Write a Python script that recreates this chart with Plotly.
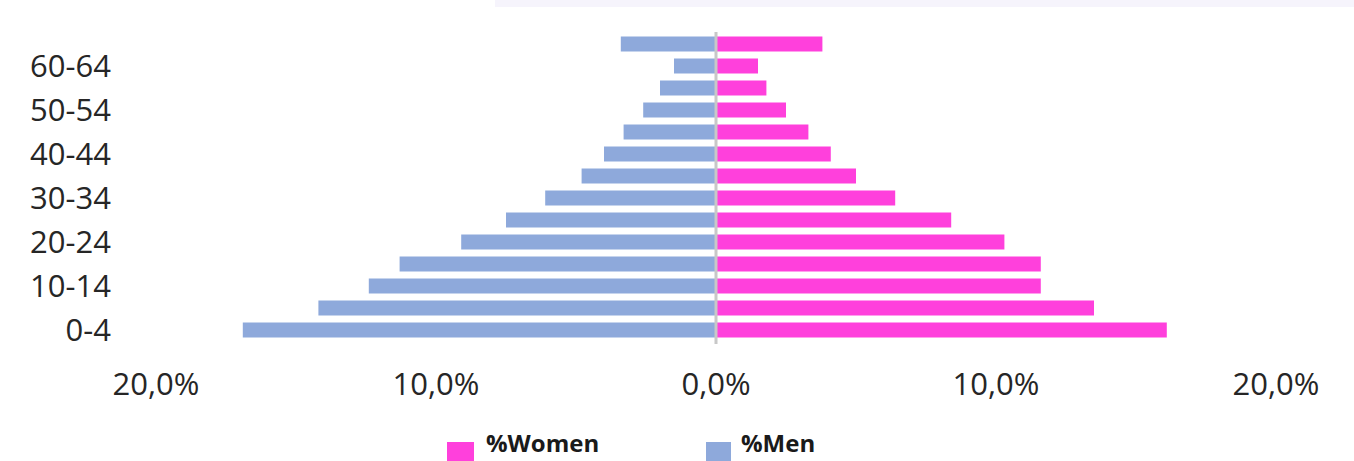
import plotly.graph_objects as go

age_groups = ["0-4", "5-9", "10-14", "15-19", "20-24", "25-29", "30-34",
              "35-39", "40-44", "45-49", "50-54", "55-59", "60-64", "65+"]
men_pct = [16.9, 14.2, 12.4, 11.3, 9.1, 7.5, 6.1, 4.8, 4.0, 3.3, 2.6, 2.0, 1.5, 3.4]
women_pct = [16.1, 13.5, 11.6, 11.6, 10.3, 8.4, 6.4, 5.0, 4.1, 3.3, 2.5, 1.8, 1.5, 3.8]
y_tick_labels = age_groups[::2]
x_tick_vals = [-20, -10, 0, 10, 20]
x_tick_text = ["20,0%", "10,0%", "0,0%", "10,0%", "20,0%"]

W, H = 1354, 461
L, R, T, B = 156, 78, 33, 120
PW, PH = W - L - R, H - T - B

def px(x):
    return (x - L) / PW

def py(y):
    return (H - B - y) / PH

MEN_COLOR = "#8EA9DB"
WOMEN_COLOR = "#FF40DC"

fig = go.Figure()
fig.add_trace(go.Bar(y=age_groups, x=[-v for v in men_pct], orientation="h",
                     name="%Men", marker=dict(color=MEN_COLOR, line=dict(width=0)),
                     showlegend=False))
fig.add_trace(go.Bar(y=age_groups, x=women_pct, orientation="h",
                     name="%Women", marker=dict(color=WOMEN_COLOR, line=dict(width=0)),
                     showlegend=False))

fig.update_layout(
    width=W, height=H,
    margin=dict(l=L, r=R, t=T, b=B),
    barmode="overlay", bargap=0.32,
    plot_bgcolor="white", paper_bgcolor="white",
    font=dict(family="Open Sans", color="#262626"),
)
fig.update_xaxes(range=[-20, 20], tickvals=x_tick_vals, ticktext=x_tick_text,
                 showgrid=False, zeroline=False, showline=False,
                 tickfont=dict(size=31, family="Open Sans", color="#262626"),
                 ticklabelstandoff=22)
fig.update_yaxes(categoryorder="array", categoryarray=age_groups,
                 tickvals=y_tick_labels, ticktext=y_tick_labels,
                 showgrid=False, zeroline=False, showline=False,
                 tickfont=dict(size=31, family="Open Sans", color="#262626"),
                 ticklabelstandoff=44)

shapes = [
    dict(type="line", xref="x", yref="paper", x0=0, x1=0, y0=py(32), y1=py(344),
         line=dict(color="#C8C8C8", width=3), layer="above"),
    dict(type="rect", xref="paper", yref="paper", x0=px(495), x1=px(W), y0=py(0), y1=py(7),
         fillcolor="#F6F4FC", line=dict(width=0), layer="below"),
    dict(type="rect", xref="paper", yref="paper", x0=px(447), x1=px(474), y0=py(442), y1=py(470),
         fillcolor=WOMEN_COLOR, line=dict(width=0)),
    dict(type="rect", xref="paper", yref="paper", x0=px(706), x1=px(731), y0=py(442), y1=py(470),
         fillcolor=MEN_COLOR, line=dict(width=0)),
]
fig.update_layout(shapes=shapes)

fig.add_annotation(x=px(484), y=py(442), xref="paper", yref="paper", xanchor="left", yanchor="middle",
                   text="<b>%Women</b>", showarrow=False,
                   font=dict(size=24, family="Open Sans", color="#1a1a1a"))
fig.add_annotation(x=px(739), y=py(442), xref="paper", yref="paper", xanchor="left", yanchor="middle",
                   text="<b>%Men</b>", showarrow=False,
                   font=dict(size=24, family="Open Sans", color="#1a1a1a"))

fig.write_html("out.html")
